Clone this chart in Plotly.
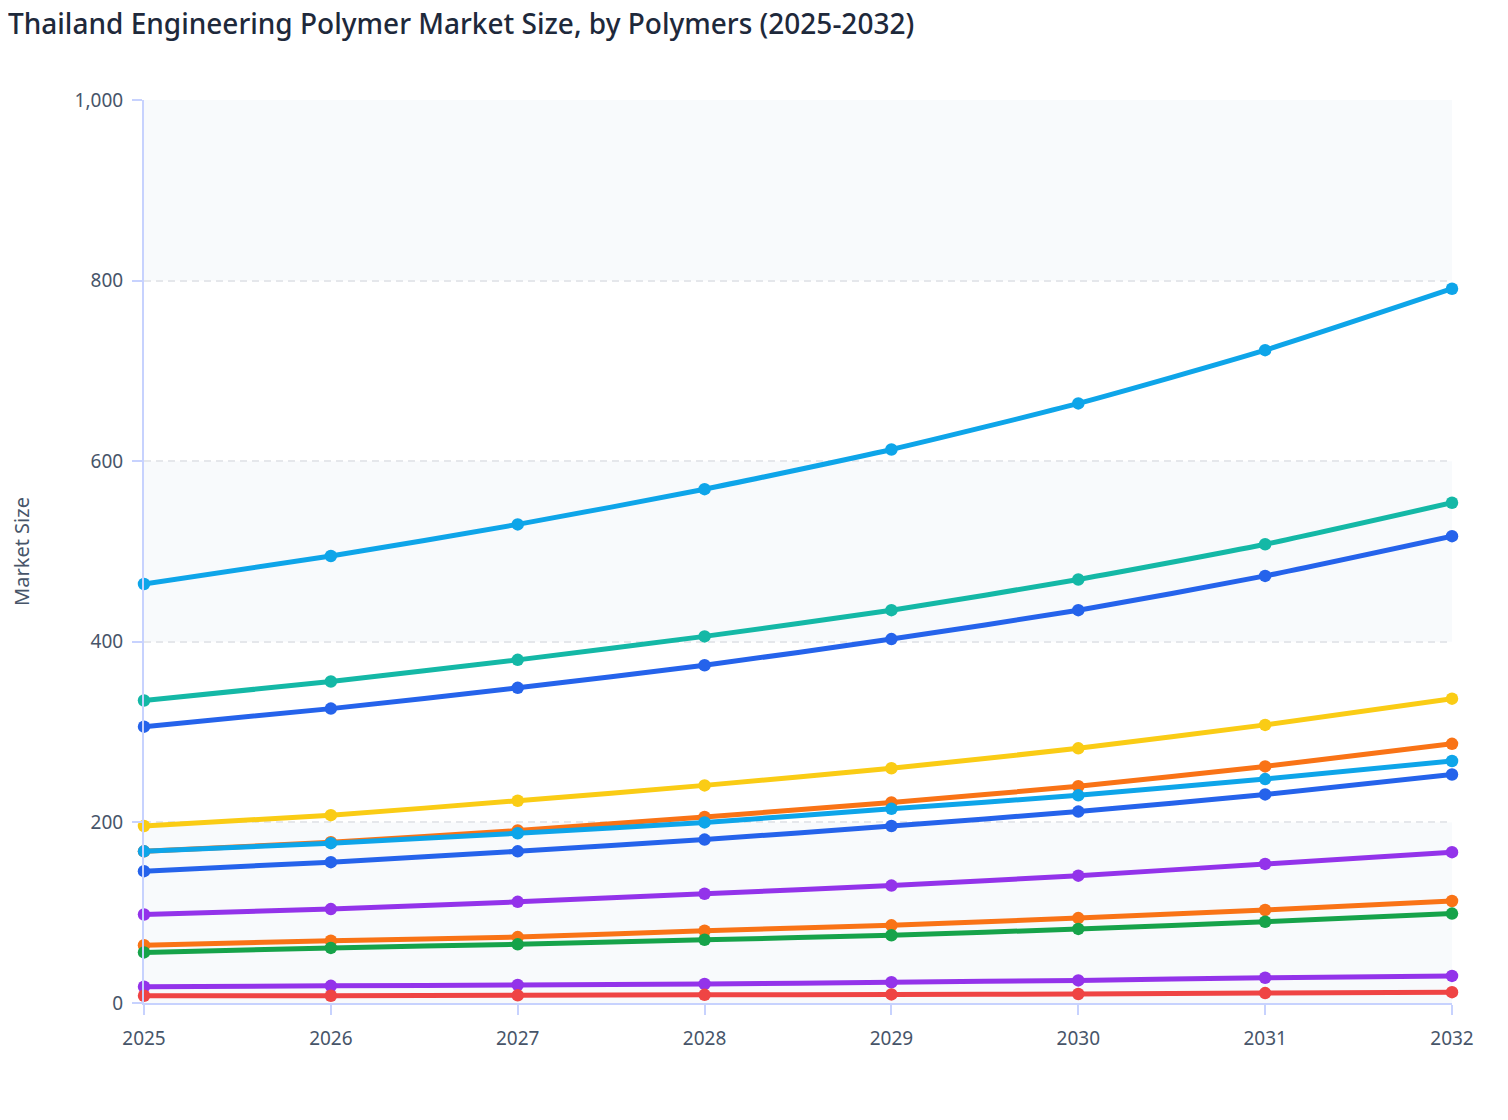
import plotly.graph_objects as go

# data
years = [2025, 2026, 2027, 2028, 2029, 2030, 2031, 2032]

polyamide = [464, 495, 530, 569, 613, 664, 723, 791]
polycarbonate = [335, 356, 380, 406, 435, 469, 508, 554]
abs_resin = [306, 326, 349, 374, 403, 435, 473, 517]
pbt = [196, 208, 224, 241, 260, 282, 308, 337]
pet = [168, 178, 191, 206, 222, 240, 262, 287]
pom = [168, 177, 188, 200, 215, 230, 248, 268]
pmma = [146, 156, 168, 181, 196, 212, 231, 253]
ppo = [98, 104, 112, 121, 130, 141, 154, 167]
pps = [64, 69, 73, 80, 86, 94, 103, 113]
fluoropolymers = [56, 61, 65, 70, 75, 82, 90, 99]
peek = [18, 19, 20, 21, 23, 25, 28, 30]
others = [8, 8, 8.5, 9, 9.5, 10, 11, 12]

series = [
    ("Polyamide (PA)", polyamide, "#0ea5e9"),
    ("Polycarbonate (PC)", polycarbonate, "#14b8a6"),
    ("ABS", abs_resin, "#2563eb"),
    ("PBT", pbt, "#facc15"),
    ("PET", pet, "#f97316"),
    ("POM", pom, "#0ea5e9"),
    ("PMMA", pmma, "#2563eb"),
    ("PPO", ppo, "#9333ea"),
    ("PPS", pps, "#f97316"),
    ("Fluoropolymers", fluoropolymers, "#16a34a"),
    ("PEEK", peek, "#9333ea"),
    ("Others", others, "#ef4444"),
]

fig = go.Figure()
for name, vals, color in series:
    fig.add_trace(go.Scatter(
        x=years, y=vals, name=name, mode="lines+markers", cliponaxis=False,
        line=dict(color=color, width=5, shape="spline", smoothing=0.6),
        marker=dict(color=color, size=12.5),
    ))

# alternating shaded bands behind the grid
for lo in (0, 400, 800):
    fig.add_shape(type="rect", xref="paper", yref="y", x0=0, x1=1,
                  y0=lo, y1=lo + 200, fillcolor="#f8fafc",
                  line=dict(width=0), layer="below")

axis_color = "#c7d2fe"
text_color = "#475569"
fig.update_layout(
    width=1500, height=1112,
    title=dict(text="Thailand Engineering Polymer Market Size, by Polymers (2025-2032)",
               x=0, xref="container", xanchor="left", y=0.994, yanchor="top",
               font=dict(size=28, color="#1e293b", family="Noto Sans", weight=500)),
    font=dict(family="Noto Sans", color=text_color, size=20),
    showlegend=False,
    plot_bgcolor="white", paper_bgcolor="white",
    margin=dict(l=136, r=56, t=92, b=117),
    xaxis=dict(range=[2025, 2032], tickmode="array", tickvals=years,
               showgrid=False, zeroline=False,
               showline=True, linecolor=axis_color, linewidth=2,
               ticks="outside", tickcolor=axis_color, ticklen=10, tickwidth=2,
               ticklabelstandoff=7,
               tickfont=dict(size=19, color=text_color)),
    yaxis=dict(range=[0, 1000], dtick=200, tickformat=",", automargin=False,
               title=dict(text="Market Size", standoff=49,
                          font=dict(size=20, color=text_color)),
               showgrid=True, gridcolor="#e5e7eb", griddash="7px,5px", gridwidth=2,
               zeroline=False,
               showline=True, linecolor=axis_color, linewidth=2,
               ticks="outside", tickcolor=axis_color, ticklen=10, tickwidth=2,
               ticklabelstandoff=5,
               tickfont=dict(size=19, color=text_color)),
)

fig.write_html("out.html")
